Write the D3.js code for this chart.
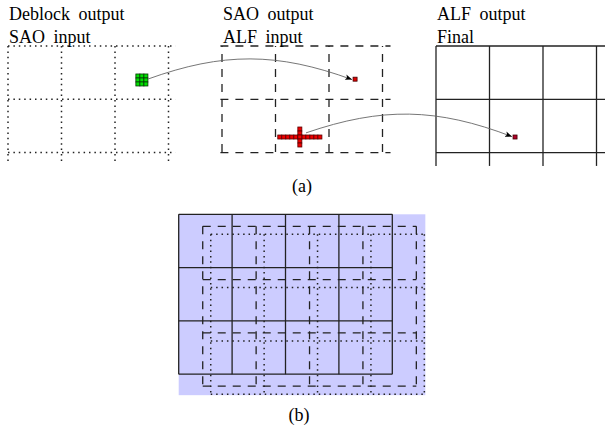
<!DOCTYPE html>
<html><head><meta charset="utf-8">
<script src="https://cdn.jsdelivr.net/npm/d3@7"></script>
<style>
body{margin:0;background:#fff}
svg{display:block}
text{font-family:"Liberation Serif","Times New Roman",serif;font-size:18px;fill:#000}
</style>
</head><body>
<svg id="fig" width="605" height="430"></svg>
<script>
// ---- Panel (a): three filter stages laid out on one CTU lattice (lattice units) ----
const stageTitles = ["Deblock output", "SAO output", "ALF output"];
const stageSubtitles = ["SAO input", "ALF input", "Final"];
const stageLineStyles = ["dotted", "dashed", "solid"];
const stageCols = [[0, 1, 2, 3], [4, 5, 6, 7], [8, 9, 10, 11]];
const stageRows = [0, 1, 2];
const stageHSpan = [[0, 3.13], [3.97, 7.15], [8, 11.3]];
const stageVSpan = [[0, 2.2], [0, 2.07], [0, 2.25]];

// 3x3 deblocked samples feeding one SAO sample
const greenBlock = {u: 2.39, v: 0.525, n: 3};
// SAO output samples feeding ALF (cross-shaped footprint)
const crossCenter = {u: 5.455, v: 1.67};
const crossArmH = 5, crossArmV = 2;
const targetSamples = [{u: 6.45, v: 0.585, c: "#e00000"}, {u: 9.44, v: 1.67, c: "#b0002a"}];
const arrows = [
  {from: [2.617, 0.62], to: [6.43, 0.63]},
  {from: [5.57, 1.63], to: [9.42, 1.70]}
];
const sampleSize = 0.075;

// ---- Panel (b): CTU grid and the shifted SAO / ALF processing grids ----
const ctuColsB = d3.range(5);
const ctuRowsB = d3.range(4);
const gridOffsets = [
  {name: "deblock", du: 0, dv: 0, style: "solid"},
  {name: "sao", du: 0.45, dv: 0.225, style: "dashed"},
  {name: "alf", du: 0.6, dv: 0.375, style: "dotted"}
];
const captions = ["(a)", "(b)"];

const svg = d3.select("#fig");
const dash = {dotted: "1.5,3.9", dashed: "8,7", solid: null};
const strokeW = {dotted: 1.5, dashed: 1.3, solid: 1.3};

// scales from lattice units to page pixels
const xa = d3.scaleLinear().domain([0, 1]).range([8, 61.5]);
const ya = d3.scaleLinear().domain([0, 1]).range([46, 99.3]);
const xb = d3.scaleLinear().domain([0, 1]).range([178.7, 232.1]);
const yb = d3.scaleLinear().domain([0, 1]).range([214.3, 267.6]);

svg.append("defs").append("marker")
  .attr("id", "head").attr("markerUnits", "userSpaceOnUse")
  .attr("viewBox", "0 -4 10 8").attr("refX", 10).attr("refY", 0)
  .attr("markerWidth", 7).attr("markerHeight", 6).attr("orient", "auto")
  .append("path").attr("d", "M0,-4L10,0L0,4L2.5,0Z").attr("fill", "#000");

// panel (a) grids
const ga = svg.append("g");
stageTitles.forEach((t, i) => {
  const st = stageLineStyles[i];
  const g = ga.append("g")
    .attr("stroke", "#222").attr("stroke-width", strokeW[st])
    .attr("stroke-dasharray", dash[st]).attr("fill", "none");
  stageRows.forEach(r => g.append("line")
    .attr("x1", xa(stageHSpan[i][0])).attr("x2", xa(stageHSpan[i][1]))
    .attr("y1", ya(r)).attr("y2", ya(r)));
  stageCols[i].forEach(c => g.append("line")
    .attr("x1", xa(c)).attr("x2", xa(c))
    .attr("y1", ya(stageVSpan[i][0])).attr("y2", ya(stageVSpan[i][1]))
    .attr("stroke-dashoffset", st === "dashed" ? 7 : 0));
  ga.append("text").attr("x", xa(stageCols[i][0]) + 1).attr("y", 20)
    .attr("word-spacing", "4px").text(t);
  ga.append("text").attr("x", xa(stageCols[i][0]) + 1).attr("y", 43)
    .attr("word-spacing", "4px").text(stageSubtitles[i]);
});

// sample blocks
function cell(g, u, v, fill, stroke) {
  g.append("rect")
    .attr("x", xa(u)).attr("y", ya(v))
    .attr("width", xa(u + sampleSize) - xa(u)).attr("height", ya(v + sampleSize) - ya(v))
    .attr("fill", fill).attr("stroke", stroke).attr("stroke-width", 0.8);
}
const gs = svg.append("g");
d3.range(greenBlock.n).forEach(i => d3.range(greenBlock.n).forEach(j =>
  cell(gs, greenBlock.u + i * sampleSize, greenBlock.v + j * sampleSize, "#00e000", "#063806")));
d3.range(-crossArmH, crossArmH + 1).forEach(k =>
  cell(gs, crossCenter.u + k * sampleSize - sampleSize / 2, crossCenter.v, "#ee0000", "#5a0000"));
d3.range(-crossArmV, crossArmV + 1).forEach(k =>
  cell(gs, crossCenter.u - sampleSize / 2, crossCenter.v + k * sampleSize, "#ee0000", "#5a0000"));
targetSamples.forEach(s => cell(gs, s.u, s.v, s.c, "#400000"));

// bent arrows (bend left ~20 degrees)
const bend = 20 * Math.PI / 180;
arrows.forEach(a => {
  const x0 = xa(a.from[0]), y0 = ya(a.from[1]), x1 = xa(a.to[0]), y1 = ya(a.to[1]);
  const d = Math.hypot(x1 - x0, y1 - y0), ang = Math.atan2(y1 - y0, x1 - x0);
  const k = 0.39 * d;
  const p = d3.path();
  p.moveTo(x0, y0);
  p.bezierCurveTo(x0 + k * Math.cos(ang - bend), y0 + k * Math.sin(ang - bend),
                  x1 - k * Math.cos(ang + bend), y1 - k * Math.sin(ang + bend), x1, y1);
  svg.append("path").attr("d", p.toString()).attr("fill", "none")
    .attr("stroke", "#666").attr("stroke-width", 0.9).attr("marker-end", "url(#head)");
});

// panel (b)
const gb = svg.append("g");
gb.append("rect")
  .attr("x", xb(0)).attr("y", yb(0))
  .attr("width", xb(4 + gridOffsets[2].du) + 1 - xb(0))
  .attr("height", yb(3 + gridOffsets[2].dv) + 1 - yb(0))
  .attr("fill", "#ccccff");
gridOffsets.forEach(o => {
  const g = gb.append("g").attr("stroke", "#222").attr("stroke-width", strokeW[o.style])
    .attr("stroke-dasharray", dash[o.style]).attr("fill", "none");
  const u0 = o.du, u1 = o.du + 4, v0 = o.dv, v1 = o.dv + 3;
  ctuRowsB.forEach(r => g.append("line")
    .attr("x1", xb(u0)).attr("x2", xb(u1)).attr("y1", yb(v0 + r)).attr("y2", yb(v0 + r)));
  ctuColsB.forEach(c => g.append("line")
    .attr("x1", xb(u0 + c)).attr("x2", xb(u0 + c)).attr("y1", yb(v0)).attr("y2", yb(v1)));
});

svg.append("text").attr("x", 302).attr("y", 192).attr("text-anchor", "middle").text(captions[0]);
svg.append("text").attr("x", 299).attr("y", 421).attr("text-anchor", "middle").text(captions[1]);
</script>
</body></html>
